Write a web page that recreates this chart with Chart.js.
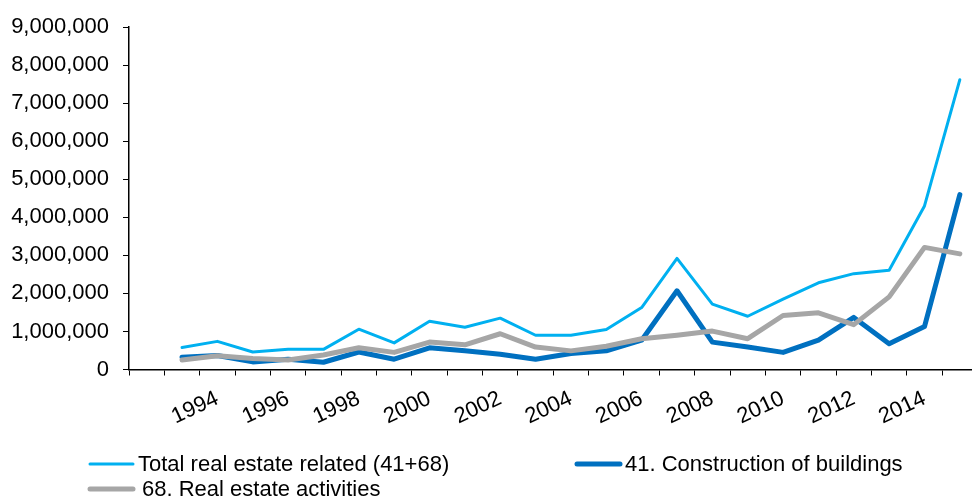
<!DOCTYPE html>
<html>
<head>
<meta charset="utf-8">
<script src="https://cdn.jsdelivr.net/npm/chart.js@4/dist/chart.umd.min.js"></script>
<style>
  html, body { margin: 0; padding: 0; background: #fff; overflow: hidden; }
  #wrap { position: relative; width: 981px; height: 497px; }
</style>
</head>
<body>
<div id="wrap"><canvas id="realEstateChart"></canvas></div>
<script>
// first slot is an empty category, data runs 1993-2015
var years = ['', '1993', '1994', '1995', '1996', '1997', '1998', '1999', '2000', '2001', '2002', '2003',
    '2004', '2005', '2006', '2007', '2008', '2009', '2010', '2011', '2012', '2013', '2014', '2015'];

var totalRelated = [null, 580000, 740000, 460000, 530000, 530000, 1060000, 700000, 1270000, 1110000, 1350000, 900000,
    900000, 1050000, 1630000, 2920000, 1720000, 1400000, 1850000, 2280000, 2520000, 2610000, 4300000, 7620000];

var construction = [null, 320000, 370000, 200000, 270000, 190000, 460000, 270000, 570000, 490000, 400000, 270000,
    420000, 490000, 770000, 2070000, 720000, 590000, 450000, 770000, 1370000, 680000, 1130000, 4600000];

var realEstateAct = [null, 250000, 360000, 290000, 250000, 380000, 570000, 450000, 720000, 650000, 940000, 590000,
    490000, 610000, 810000, 900000, 1010000, 810000, 1420000, 1490000, 1180000, 1910000, 3210000, 3040000];

var seriesNames = ['Total real estate related (41+68)', '41. Construction of buildings', '68. Real estate activities'];

var font = { family: "'Liberation Sans', Arial, sans-serif", size: 22 };

// Excel style legend: two columns, drawn under the axis
var legendPlugin = {
    id: 'gridLegend',
    afterDraw: function (chart) {
        var ctx = chart.ctx;
        var spots = [
            { x: 90, y: 464, gap: 5 },
            { x: 577, y: 464, gap: 5 },
            { x: 90, y: 489, gap: 9 }
        ];
        ctx.save();
        ctx.font = font.size + 'px ' + font.family;
        ctx.textBaseline = 'middle';
        ctx.textAlign = 'left';
        chart.data.datasets.forEach(function (ds, i) {
            var s = spots[i];
            ctx.strokeStyle = ds.borderColor;
            ctx.lineWidth = ds.borderWidth;
            ctx.lineCap = 'round';
            ctx.beginPath();
            ctx.moveTo(s.x, s.y);
            ctx.lineTo(s.x + 43, s.y);
            ctx.stroke();
            ctx.fillStyle = '#000';
            ctx.fillText(ds.label, s.x + 43 + s.gap, s.y + 1);
        });
        ctx.restore();
    }
};

var realEstateChart = new Chart(document.getElementById('realEstateChart').getContext('2d'), {
    type: 'line',
    data: {
        labels: years,
        datasets: [{
            label: seriesNames[0],
            data: totalRelated,
            borderColor: '#00B0F0',
            borderWidth: 3,
            order: 2
        }, {
            label: seriesNames[1],
            data: construction,
            borderColor: '#0070C0',
            borderWidth: 5,
            order: 1
        }, {
            label: seriesNames[2],
            data: realEstateAct,
            borderColor: '#A6A6A6',
            borderWidth: 5,
            order: 0
        }]
    },
    options: {
        responsive: true,
        maintainAspectRatio: false,
        animation: false,
        layout: { padding: { top: 23, left: 0, right: 0, bottom: 0 } },
        elements: {
            point: { radius: 0 },
            line: { tension: 0, fill: false, borderCapStyle: 'round', borderJoinStyle: 'round' }
        },
        plugins: {
            legend: { display: false },
            tooltip: { enabled: false }
        },
        scales: {
            x: {
                offset: true,
                grid: { offset: true, drawOnChartArea: false, tickLength: 6, tickColor: '#000', lineWidth: 1 },
                border: { color: '#000', width: 1.5 },
                ticks: {
                    autoSkip: false,
                    minRotation: 25,
                    maxRotation: 25,
                    padding: 10,
                    color: '#000',
                    font: font,
                    callback: function (v, i) {
                        return (i > 0 && i % 2 === 0) ? years[i] : '';
                    }
                },
                afterFit: function (scale) { scale.height = 127.5; }
            },
            y: {
                min: 0,
                max: 9000000,
                grid: { drawOnChartArea: false, tickLength: 6, tickColor: '#000', lineWidth: 1 },
                border: { color: '#000', width: 1.5 },
                ticks: {
                    stepSize: 1000000,
                    padding: 14,
                    color: '#000',
                    font: font,
                    callback: function (v) { return v.toLocaleString('en-US'); }
                },
                afterFit: function (scale) { scale.width = 129; }
            }
        }
    },
    plugins: [legendPlugin]
});
</script>
</body>
</html>
